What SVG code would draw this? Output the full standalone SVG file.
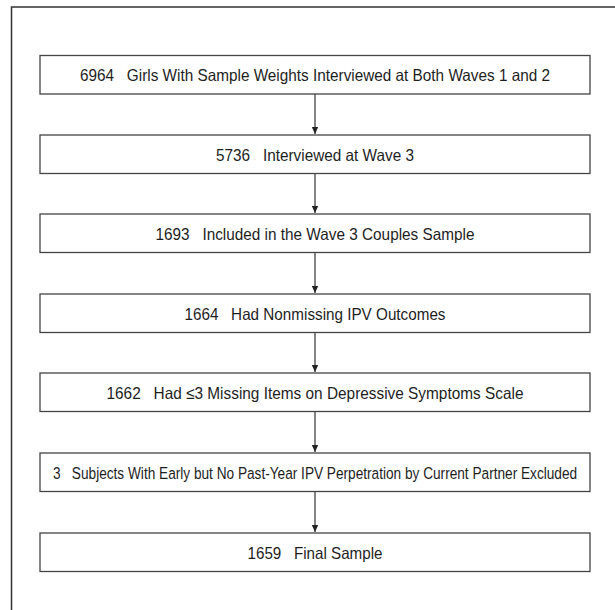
<svg xmlns="http://www.w3.org/2000/svg" width="615" height="610" viewBox="0 0 615 610">
<style>
.box{fill:#fff;stroke:#444;stroke-width:1.3}
.t{font-family:"Liberation Sans",Arial,sans-serif;font-size:16.5px;fill:#1e1e1e;text-anchor:middle;white-space:pre}
.c{stroke:#333;stroke-width:1.2;fill:none}
</style>
<defs>
<marker id="ah" markerWidth="8" markerHeight="8" refX="7" refY="4" orient="auto" markerUnits="userSpaceOnUse">
<path d="M0,0.8 L7,4 L0,7.2 Z" fill="#222"/>
</marker>
</defs>
<rect width="615" height="610" fill="#fff"/>
<path d="M11.5,612 V7 H617" fill="none" stroke="#333" stroke-width="1.5"/>
<g id="connectors">
<line class="c" x1="315" y1="94" x2="315" y2="134" marker-end="url(#ah)"/>
<line class="c" x1="315" y1="173" x2="315" y2="213" marker-end="url(#ah)"/>
<line class="c" x1="315" y1="253" x2="315" y2="293" marker-end="url(#ah)"/>
<line class="c" x1="315" y1="332" x2="315" y2="372" marker-end="url(#ah)"/>
<line class="c" x1="315" y1="412" x2="315" y2="452" marker-end="url(#ah)"/>
<line class="c" x1="315" y1="491" x2="315" y2="532" marker-end="url(#ah)"/>
</g>
<g id="n1"><rect class="box" x="40" y="55.5" width="550" height="38.5"/><text class="t" x="315" y="81" textLength="470" lengthAdjust="spacingAndGlyphs" xml:space="preserve">6964   Girls With Sample Weights Interviewed at Both Waves 1 and 2</text></g>
<g id="n2"><rect class="box" x="40" y="135" width="550" height="38.5"/><text class="t" x="315" y="160.5" textLength="198" lengthAdjust="spacingAndGlyphs" xml:space="preserve">5736   Interviewed at Wave 3</text></g>
<g id="n3"><rect class="box" x="40" y="214" width="550" height="38.5"/><text class="t" x="315" y="239.5" textLength="319" lengthAdjust="spacingAndGlyphs" xml:space="preserve">1693   Included in the Wave 3 Couples Sample</text></g>
<g id="n4"><rect class="box" x="40" y="294" width="550" height="38.5"/><text class="t" x="315" y="319.5" textLength="261" lengthAdjust="spacingAndGlyphs" xml:space="preserve">1664   Had Nonmissing IPV Outcomes</text></g>
<g id="n5"><rect class="box" x="40" y="373" width="550" height="38.5"/><text class="t" x="315" y="398.5" textLength="417" lengthAdjust="spacingAndGlyphs" xml:space="preserve">1662   Had ≤3 Missing Items on Depressive Symptoms Scale</text></g>
<g id="n6"><rect class="box" x="40" y="453" width="550" height="38.5"/><text class="t" transform="translate(315,478.5) scale(0.828,1)" x="0" y="0" xml:space="preserve">3   Subjects With Early but No Past-Year IPV Perpetration by Current Partner Excluded</text></g>
<g id="n7"><rect class="box" x="40" y="533" width="550" height="38.5"/><text class="t" x="315" y="558.5" textLength="135" lengthAdjust="spacingAndGlyphs" xml:space="preserve">1659   Final Sample</text></g>
</svg>
